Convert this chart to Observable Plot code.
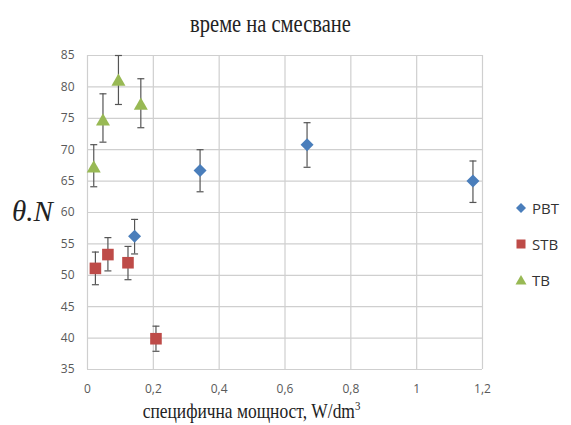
<!DOCTYPE html>
<html><head><meta charset="utf-8">
<script src="https://cdn.jsdelivr.net/npm/d3@7"></script>
<script src="https://cdn.jsdelivr.net/npm/@observablehq/plot@0.6"></script>
<style>
body{margin:0;background:#fff;}
#wrap{position:relative;width:571px;height:425px;overflow:hidden;}
.lbl{position:absolute;font-family:"Liberation Serif","DejaVu Serif",serif;color:#222;white-space:nowrap;}
#legend{position:absolute;left:515px;top:190px;font-family:"Open Sans","Liberation Sans",sans-serif;font-size:15px;color:#333;}
#legend div{height:36px;display:flex;align-items:center;}
#legend svg{margin-right:5px;}
</style></head>
<body><div id="wrap">
<div class="lbl" style="left:-15.5px;width:571px;top:9px;line-height:29px;text-align:center;font-size:25px;transform:scaleX(0.82);transform-origin:center;">време на смесване</div>
<div class="lbl" style="left:12px;top:195px;font-size:29px;line-height:33px;font-style:italic;">θ.N</div>
<div class="lbl" style="left:-34px;width:571px;top:399px;line-height:24px;text-align:center;font-size:21px;transform:scaleX(0.83);transform-origin:center;">специфична мощност, W/dm<span style="font-size:13px;position:relative;top:-8px;">3</span></div>
<div id="legend"></div>
</div>
<script>
const series = ["PBT", "STB", "TB"];
const colors = ["#4A7EBB", "#BE4B48", "#98B954"];
const pbtX = [0.143, 0.342, 0.667, 1.171];
const pbtY = [56.2, 66.7, 70.8, 65.0];
const pbtLo = [53.4, 63.3, 67.2, 61.6];
const pbtHi = [58.9, 70.0, 74.3, 68.2];
const stbX = [0.024, 0.062, 0.123, 0.208];
const stbY = [51.1, 53.3, 52.0, 39.9];
const stbLo = [48.5, 50.7, 49.3, 37.9];
const stbHi = [53.7, 56.0, 54.6, 41.9];
const tbX = [0.019, 0.047, 0.094, 0.162];
const tbY = [67.2, 74.7, 81.0, 77.2];
const tbLo = [64.1, 71.2, 77.2, 73.5];
const tbHi = [70.8, 78.9, 85.0, 81.3];
const xTicks = [0, 0.2, 0.4, 0.6, 0.8, 1, 1.2];
const yTicks = [35, 40, 45, 50, 55, 60, 65, 70, 75, 80, 85];

const rows = [];
[[pbtX,pbtY,pbtLo,pbtHi],[stbX,stbY,stbLo,stbHi],[tbX,tbY,tbLo,tbHi]].forEach(([xs,ys,lo,hi],i)=>{
  xs.forEach((x,j)=>rows.push({s:series[i],x,y:ys[j],lo:lo[j],hi:hi[j]}));
});
const cap = {draw(ctx,size){const r=3.5;ctx.moveTo(-r,0);ctx.lineTo(r,0);}};
const diamond = {draw(ctx,size){const r=6.5;ctx.moveTo(0,-r);ctx.lineTo(r,0);ctx.lineTo(0,r);ctx.lineTo(-r,0);ctx.closePath();}};
const square = {draw(ctx,size){const r=5.8;ctx.rect(-r,-r,2*r,2*r);}};
const tri = {draw(ctx,size){const r=7;ctx.moveTo(0,-r);ctx.lineTo(r,r*0.75);ctx.lineTo(-r,r*0.75);ctx.closePath();}};
const symMap = {PBT:diamond, STB:square, TB:tri};
const colMap = Object.fromEntries(series.map((s,i)=>[s,colors[i]]));
const fmt = d => d3.format(".1~f")(d).replace(".", ",");

const chart = Plot.plot({
  width:571, height:425,
  marginLeft:87, marginRight:89, marginTop:55, marginBottom:56,
  style:{fontFamily:"'Open Sans','Liberation Sans',sans-serif", fontSize:"12px", color:"#595959", background:"transparent"},
  x:{domain:[0,1.2], ticks:xTicks, tickFormat:fmt, tickSize:0, tickPadding:15, label:null},
  y:{domain:[35,85], ticks:yTicks, tickSize:0, tickPadding:13, label:null},
  marks:[
    Plot.gridX(xTicks,{stroke:"#cfcfcf", strokeOpacity:1, strokeWidth:1.2}),
    Plot.gridY(yTicks,{stroke:"#cfcfcf", strokeOpacity:1, strokeWidth:1.2}),
    Plot.ruleX(rows,{x:"x", y1:"lo", y2:"hi", stroke:"#555", strokeWidth:1.2}),
    Plot.dot(rows,{x:"x", y:"lo", symbol:()=>cap, stroke:"#555", strokeWidth:1.2, r:3}),
    Plot.dot(rows,{x:"x", y:"hi", symbol:()=>cap, stroke:"#555", strokeWidth:1.2, r:3}),
    Plot.dot(rows,{x:"x", y:"y", symbol:d=>symMap[d.s], fill:d=>colMap[d.s], stroke:"none", r:5}),
  ]
});
const wrap = document.getElementById("wrap");
chart.style.position="absolute"; chart.style.left="0"; chart.style.top="0";
wrap.insertBefore(chart, wrap.firstChild);

const legend = document.getElementById("legend");
const legShapes = {
  PBT:'<path d="M6,1L11,6L6,11L1,6Z"/>',
  STB:'<rect x="1.5" y="1.5" width="9" height="9"/>',
  TB:'<path d="M6,1L11.5,10.5L0.5,10.5Z"/>'
};
series.forEach((s,i)=>{
  const d=document.createElement("div");
  d.innerHTML=`<svg width="12" height="12" fill="${colors[i]}">${legShapes[s]}</svg><span>${s}</span>`;
  legend.appendChild(d);
});
</script>
</body></html>
